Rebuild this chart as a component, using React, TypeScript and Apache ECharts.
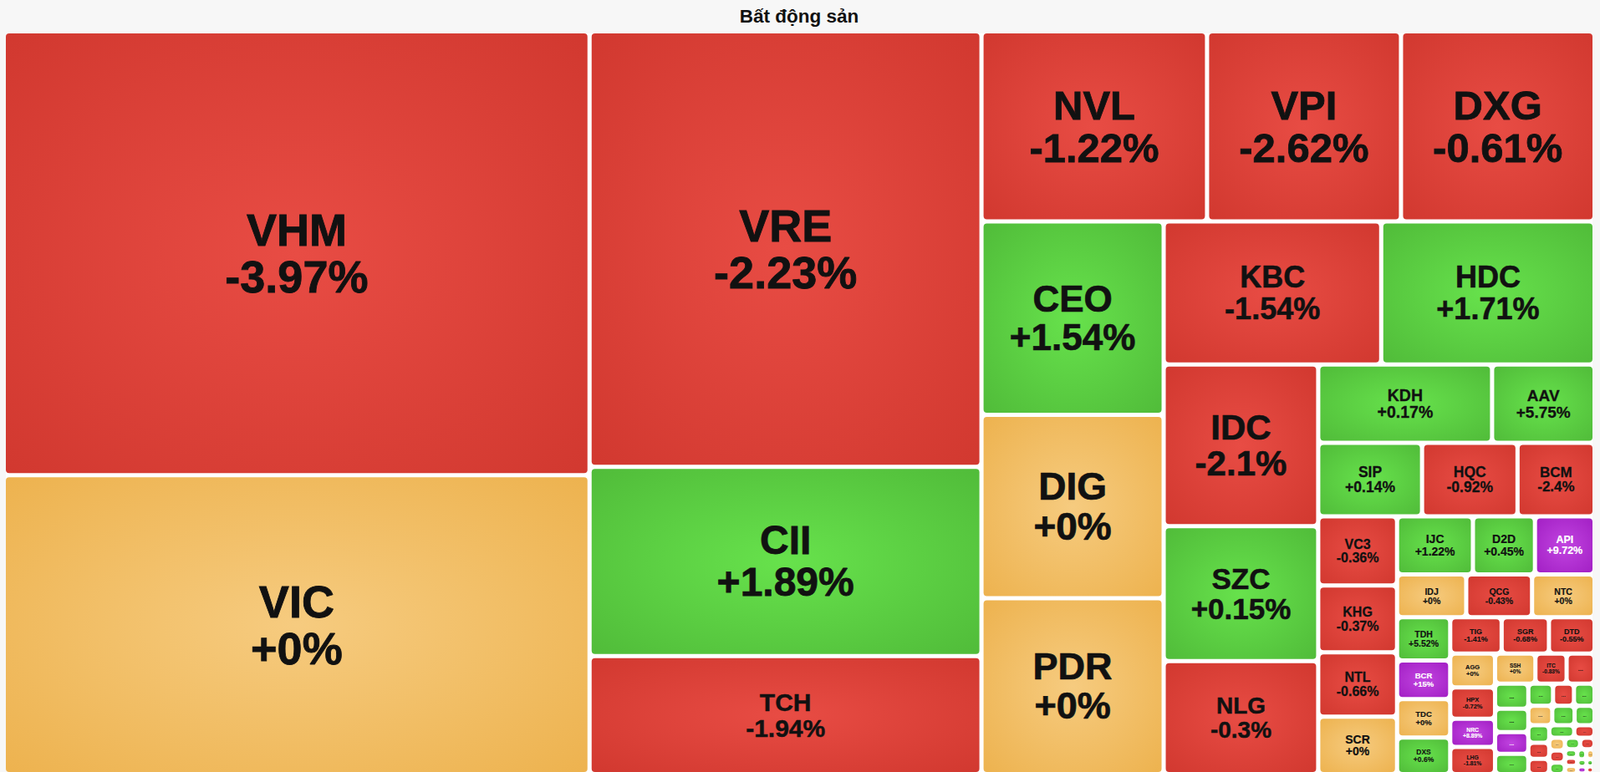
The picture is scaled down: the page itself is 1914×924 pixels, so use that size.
import React, { useEffect, useRef } from "react";
import * as echarts from "echarts";

// ---- data ----
const TITLE = "Bất động sản";

const codes = [
  "VHM", "VIC", "VRE", "CII", "TCH", "NVL", "VPI", "DXG", "CEO", "DIG", "PDR",
  "KBC", "HDC", "IDC", "SZC", "NLG", "KDH", "AAV", "SIP", "HQC", "BCM",
  "VC3", "KHG", "NTL", "SCR", "IJC", "D2D", "API", "IDJ", "QCG", "NTC",
  "TDH", "BCR", "TDC", "DXS", "TIG", "SGR", "DTD", "AGG", "HPX", "NRC", "LHG",
  "SSH", "ITC",
];

const changes = [
  -3.97, 0, -2.23, 1.89, -1.94, -1.22, -2.62, -0.61, 1.54, 0, 0,
  -1.54, 1.71, -2.1, 0.15, -0.3, 0.17, 5.75, 0.14, -0.92, -2.4,
  -0.36, -0.37, -0.66, 0, 1.22, 0.45, 9.72, 0, -0.43, 0,
  5.52, 15, 0, 0.6, -1.41, -0.68, -0.55, 0, -0.72, 8.89, -1.81,
  0, -0.83,
];

// tile weights (area)
const weights = [
  371530, 250257, 243880, 105994, 66129, 61290, 52700, 52600, 50358, 47742, 45780,
  44460, 43605, 35705, 29785, 24975, 19458, 11468, 10912, 10032, 8096,
  7802, 7520, 7238, 6480, 6300, 5150, 4950, 4233, 4029, 3825,
  3276, 2940, 2920, 2780, 2666, 2451, 2365, 2170, 2010, 1800, 1745,
  1740, 1345,
];

const ceilingCodes = ["API", "BCR", "NRC"];

// unlabeled small tiles ("...")
const smallWeights = [
  1205, 1190, 1110, 1035, 965, 780, 660, 650, 662, 618, 552,
  528, 480, 456, 448, 364, 289, 272, 255, 252, 240,
  154, 143, 140, 130, 120, 105, 95, 85, 80,
];
const smallStates = [
  "down", "up", "up", "ceil", "up", "up", "down", "up", "flat", "up", "up",
  "up", "down", "down", "up", "down", "flat", "down", "up", "up", "down",
  "up", "down", "flat", "up", "flat", "up", "ceil", "up", "down",
];

// how tiles are grouped into strips (rows / columns of the picture)
const groupSizes = [2, 3, 3, 3, 2, 3, 2, 3, 4, 3, 3, 4, 3, 4, 3, 4, 3, 3, 3, 2, 3, 2, 3, 2, 2, 2];
const groupSplits: Record<number, number[]> = { 1: [2, 1] };

// ---- styles ----
const labelSizes = [
  54, 54, 54, 48, 30, 49, 49, 49, 44, 46, 45,
  36, 36, 42, 35, 28, 19.5, 19, 17.5, 17.5, 17,
  16, 16, 16, 14, 14, 14, 12.5, 10.5, 10.5, 10.5,
  10.5, 9.5, 9.5, 8.5, 9, 9, 9, 7.5, 7.5, 6.8, 6.8,
  6.5, 6.5,
];

const FONT = '"Liberation Sans", Arial, Helvetica, sans-serif';

const COLORS: Record<string, [string, string]> = {
  down: ["#e84c44", "#d1382f"],
  up: ["#67e24c", "#50bb39"],
  flat: ["#f6cb7f", "#edb24e"],
  ceil: ["#c144e0", "#a21fc4"],
};

function stateOf(code: string, change: number) {
  if (ceilingCodes.includes(code)) return "ceil";
  return change > 0 ? "up" : change < 0 ? "down" : "flat";
}

function fill(state: string) {
  const [a, b] = COLORS[state];
  return new echarts.graphic.RadialGradient(0.5, 0.5, 0.72, [
    { offset: 0, color: a },
    { offset: 1, color: b },
  ]);
}

function fmt(p: number) {
  return (p >= 0 ? "+" : "") + p + "%";
}

function buildTree() {
  const leaves: any[] = [];
  codes.forEach((c, i) => {
    const st = stateOf(c, changes[i]);
    const fs = labelSizes[i];
    const txt = st === "ceil" ? "#ffffff" : "#111111";
    leaves.push({
      name: c,
      value: weights[i],
      pct: fmt(changes[i]),
      itemStyle: { color: fill(st) },
      label: {
        fontSize: fs,
        lineHeight: Math.round(fs * 1.04 * 10) / 10,
        color: txt,
        textBorderColor: txt,
        textBorderWidth: Math.round(fs * 0.016 * 100) / 100,
      },
    });
  });
  smallWeights.forEach((w, i) => {
    const st = smallStates[i];
    const fs = w >= 1000 ? 7 : w >= 600 ? 6 : w >= 400 ? 5 : 4;
    leaves.push({
      name: "...",
      value: w,
      itemStyle: { color: fill(st) },
      label: { fontSize: fs, lineHeight: fs, color: st === "ceil" ? "#ffffff" : "#111111" },
    });
  });

  const makeGroup = (kids: any[]) => ({
    name: "",
    value: kids.reduce((s, k) => s + k.value, 0),
    children: kids,
  });

  let cursor = 0;
  return groupSizes.map((size, gi) => {
    const items = leaves.slice(cursor, cursor + size);
    cursor += size;
    const split = groupSplits[gi];
    if (!split) return makeGroup(items);
    let c = 0;
    const kids = split.map((n) => {
      const part = items.slice(c, c + n);
      c += n;
      return n === 1 ? part[0] : makeGroup(part);
    });
    return makeGroup(kids);
  });
}

export default function App() {
  const ref = useRef<HTMLDivElement>(null);

  useEffect(() => {
    if (!ref.current) return;
    const chart = echarts.init(ref.current, undefined, { renderer: "svg" });
    chart.setOption({
      animation: false,
      backgroundColor: "#f7f7f7",
      graphic: [
        {
          type: "rect",
          silent: true,
          z: 0,
          shape: { x: 0, y: 0, width: 1908, height: 40 },
          style: { fill: "#f7f7f7" },
        },
        {
          type: "text",
          silent: true,
          z: 10,
          x: 956,
          y: 19.5,
          style: {
            text: TITLE,
            align: "center",
            verticalAlign: "middle",
            fontSize: 22.5,
            fontWeight: "bold",
            fontFamily: FONT,
            fill: "#111111",
          },
        },
      ],
      series: [
        {
          type: "treemap",
          left: 7,
          top: 40,
          width: 1898,
          height: 884,
          squareRatio: 0.02,
          sort: false,
          roam: false,
          nodeClick: false,
          visibleMin: 1,
          breadcrumb: { show: false },
          itemStyle: { gapWidth: 5, borderWidth: 0, borderColor: "#ffffff", borderRadius: 4 },
          upperLabel: { show: false },
          label: {
            show: true,
            position: "inside",
            align: "center",
            verticalAlign: "middle",
            padding: 0,
            overflow: "none",
            fontFamily: FONT,
            fontWeight: "bold",
            color: "#111111",
            formatter: (p: any) =>
              p.data && p.data.pct ? p.name + "\n" + p.data.pct : p.name,
          },
          emphasis: { disabled: true },
          data: buildTree(),
        },
      ],
    });
    return () => chart.dispose();
  }, []);

  return (
    <div
      ref={ref}
      style={{ position: "fixed", left: 0, top: 0, width: "1914px", height: "924px", overflow: "hidden" }}
    />
  );
}
